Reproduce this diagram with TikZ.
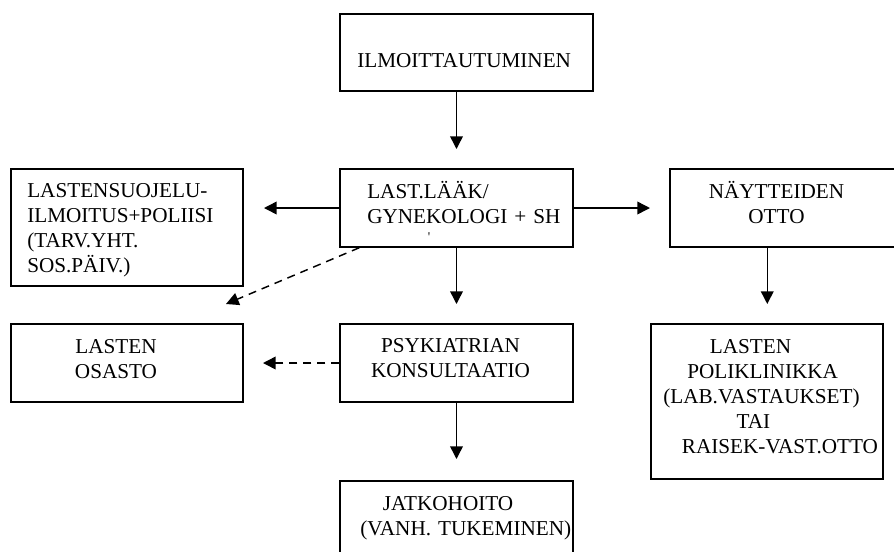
\documentclass[tikz,border=0pt]{standalone}
\usepackage{fontspec}
\setmainfont{Liberation Serif}
\usetikzlibrary{arrows.meta}
\begin{document}
\begin{tikzpicture}[x=0.75pt,y=-0.75pt,
    box/.style={draw,line width=1.1pt,rectangle,inner sep=0pt},
    txt/.style={inner sep=0pt,text width=165pt,font=\fontsize{15.9}{18.75}\selectfont},
    arr/.style={line width=1.1pt,-{Triangle[length=9.5pt,width=9.5pt]}},
    darr/.style={arr,dash pattern=on 6pt off 4.5pt}]
    \useasboundingbox (0,0) rectangle (894,551);
    \clip (0,0) rectangle (894,551);

    \node[box,minimum width=189.75pt,minimum height=57.75pt] (ilmo) at (466.5,52.5) {};
    \node[box,minimum width=174.75pt,minimum height=58.5pt] (last) at (456.5,208) {};
    \node[box,minimum width=174pt,minimum height=87.75pt] (suoj) at (127,227.5) {};
    \node[box,minimum width=176.25pt,minimum height=58.5pt] (naytt) at (787.5,208) {};
    \node[box,minimum width=174pt,minimum height=58.5pt] (osasto) at (127,363) {};
    \node[box,minimum width=174.75pt,minimum height=58.5pt] (psyk) at (456.5,363) {};
    \node[box,minimum width=174pt,minimum height=116.25pt] (polik) at (767,401.5) {};
    \node[box,minimum width=174.75pt,minimum height=70.5pt] (jatko) at (456.5,528) {};

    \node[txt,anchor=base west] (ilmo-t) at (357,67) {ILMOITTAUTUMINEN};
    \node[txt,anchor=base west] (last-t) at (367,198) {LAST.LÄÄK/\\GYNEKOLOGI + SH};
    \node[inner sep=0pt,font=\fontsize{10}{11}\selectfont] (last-m) at (429,237) {\textquotesingle};
    \node[txt,anchor=base west] (suoj-t) at (27,197) {LASTENSUOJELU-\\ILMOITUS+POLIISI\\(TARV.YHT.\\SOS.PÄIV.)};
    \node[txt,anchor=base,align=center] (naytt-t) at (776.5,198) {NÄYTTEIDEN\\OTTO};
    \node[txt,anchor=base,align=center] (osasto-t) at (116,353) {LASTEN\\OSASTO};
    \node[txt,anchor=base,align=center] (psyk-t) at (450.5,352.5) {PSYKIATRIAN\\KONSULTAATIO};
    \node[txt,anchor=base west] (polik-t) at (663,353) {\hspace*{35pt}LASTEN\\\hspace*{18pt}POLIKLINIKKA\\(LAB.VASTAUKSET)\\\hspace*{55pt}TAI\\\hspace*{14pt}RAISEK-VAST.OTTO};
    \node[txt,anchor=base west] (jatko-t) at (360,510) {\hspace*{17pt}JATKOHOITO\\(VANH. TUKEMINEN)};

    % arrow tips
    \coordinate (t1) at (456.5,149);
    \coordinate (t2) at (264,208);
    \coordinate (t3) at (650,208);
    \coordinate (t4) at (226,304);
    \coordinate (t5) at (456.5,304);
    \coordinate (t6) at (768,304);
    \coordinate (t7) at (263,363);
    \coordinate (t8) at (456.5,459);
    \coordinate (n6) at ([xshift=73.5pt]naytt.south west);

    \draw[arr] (ilmo.south -| last.north) -- (t1);
    \draw[arr] (last.west) -- (t2);
    \draw[arr] (last.east) -- (t3);
    \draw[darr] ([xshift=15pt]last.south west) -- (t4);
    \draw[arr] (last.south) -- (t5);
    \draw[arr] (n6) -- (n6 |- t6);
    \draw[darr] (psyk.west) -- (t7);
    \draw[arr] (psyk.south) -- (t8);
\end{tikzpicture}
\end{document}
